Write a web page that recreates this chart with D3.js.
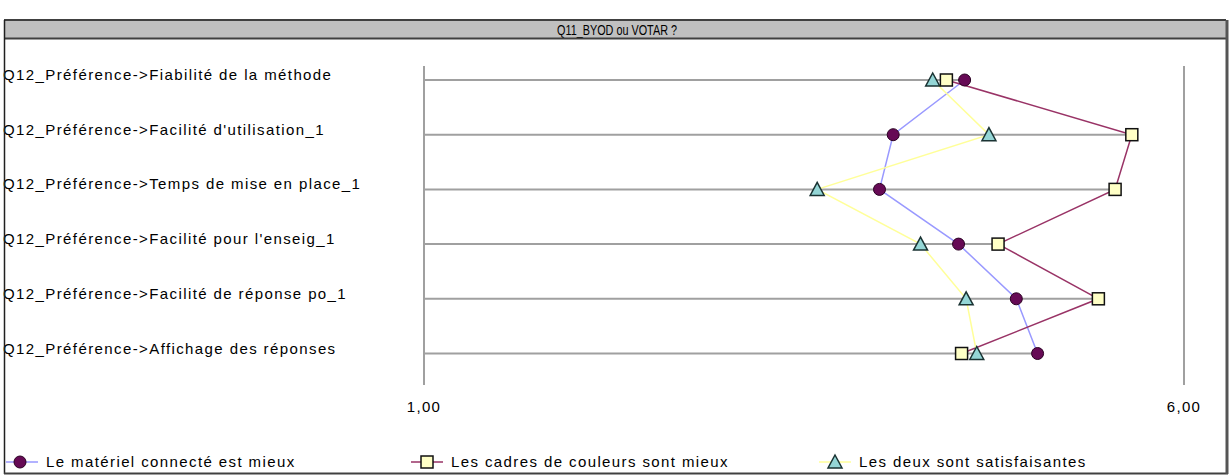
<!DOCTYPE html>
<html>
<head>
<meta charset="utf-8">
<script src="https://cdn.jsdelivr.net/npm/d3@7"></script>
<style>
  body { margin: 0; background: #fff; }
  svg { font-family: "Liberation Sans", Arial, sans-serif; }
</style>
</head>
<body>
<div id="chart"></div>
<script>
const W = 1231, H = 476

const title = "Q11_BYOD ou VOTAR ?"
const categories = [
  "Q12_Préférence->Fiabilité de la méthode",
  "Q12_Préférence->Facilité d'utilisation_1",
  "Q12_Préférence->Temps de mise en place_1",
  "Q12_Préférence->Facilité pour l'enseig_1",
  "Q12_Préférence->Facilité de réponse po_1",
  "Q12_Préférence->Affichage des réponses"
]
const seriesNames = [
  "Le matériel connecté est mieux",
  "Les cadres de couleurs sont mieux",
  "Les deux sont satisfaisantes"
]
const materiel = [4.56, 4.09, 4.00, 4.52, 4.90, 5.04]
const cadres   = [4.44, 5.66, 5.55, 4.78, 5.44, 4.54]
const deux     = [4.35, 4.72, 3.59, 4.27, 4.57, 4.64]
const tickValues = [1, 6]

const series = [
  { name: seriesNames[0], values: materiel, line: "#9999ff", fill: "#660a55", shape: "circle" },
  { name: seriesNames[1], values: cadres,   line: "#993366", fill: "#ffffc6", shape: "square" },
  { name: seriesNames[2], values: deux,     line: "#ffff99", fill: "#94d6d6", shape: "triangle" }
]

const svg = d3.select("#chart").append("svg")
  .attr("width", W).attr("height", H)

const x = d3.scaleLinear().domain([1, 6]).range([423.5, 1183.5])
const y = d3.scalePoint().domain(categories).range([80, 353.5])

// title bar
svg.append("rect")
  .attr("x", 4).attr("y", 20).attr("width", 1222).attr("height", 18)
  .attr("fill", "#c0c0c0")
svg.append("text")
  .attr("x", 557).attr("y", 34.5)
  .attr("font-size", 15)
  .attr("textLength", 120)
  .attr("lengthAdjust", "spacingAndGlyphs")
  .text(title)

// axis with full-height ticks
const axisG = svg.append("g").attr("transform", "translate(0,385)")
axisG.call(d3.axisBottom(x)
  .tickValues(tickValues)
  .tickSize(-319)
  .tickPadding(16)
  .tickFormat(d => d3.format(".2f")(d).replace(".", ",")))
axisG.select(".domain").remove()
axisG.selectAll(".tick line").attr("stroke", "#a0a0a0").attr("stroke-width", 2)
axisG.selectAll(".tick text")
  .attr("fill", "#000").attr("font-size", 15)
  .attr("letter-spacing", 1.3)
  .attr("font-family", "Liberation Sans, Arial, sans-serif")

// row lines, from 1 to the largest value of the row
svg.append("g").selectAll("line")
  .data(categories)
  .join("line")
  .attr("x1", x(1))
  .attr("x2", (d, i) => x(d3.max(series, s => s.values[i])))
  .attr("y1", d => y(d)).attr("y2", d => y(d))
  .attr("stroke", "#a0a0a0").attr("stroke-width", 2)

// category labels
svg.append("g").selectAll("text")
  .data(categories)
  .join("text")
  .attr("x", 3)
  .attr("y", d => y(d))
  .attr("font-size", 15)
  .attr("letter-spacing", 1.4)
  .text(d => d)

const lineGen = d3.line()
  .x(d => x(d))
  .y((d, i) => y(categories[i]))

svg.append("g").selectAll("path")
  .data(series)
  .join("path")
  .attr("d", s => lineGen(s.values))
  .attr("fill", "none")
  .attr("stroke", s => s.line)
  .attr("stroke-width", 1.5)

function drawMarker(g, shape, fill) {
  if (shape === "circle") {
    g.append("circle").attr("r", 6).attr("fill", fill).attr("stroke", "#2a0022").attr("stroke-width", 1)
  } else if (shape === "square") {
    g.append("rect").attr("x", -6).attr("y", -6).attr("width", 12).attr("height", 12)
      .attr("fill", fill).attr("stroke", "#111").attr("stroke-width", 1.5)
  } else {
    g.append("path").attr("d", "M0,-7L7,6L-7,6Z")
      .attr("fill", fill).attr("stroke", "#1a3333").attr("stroke-width", 1.5)
  }
}

series.forEach(s => {
  s.values.forEach((v, i) => {
    const g = svg.append("g").attr("transform", `translate(${x(v)},${y(categories[i])})`)
    drawMarker(g, s.shape, s.fill)
  })
})

// legend
const legendX = [6, 411, 819]
series.forEach((s, k) => {
  const lg = svg.append("g").attr("transform", `translate(${legendX[k]},462)`)
  lg.append("line").attr("x1", 0).attr("x2", 32).attr("y1", 0).attr("y2", 0)
    .attr("stroke", s.line).attr("stroke-width", 1.5)
  const m = lg.append("g").attr("transform", `translate(${k === 0 ? 14 : 16},0)`)
  drawMarker(m, s.shape, s.fill)
  lg.append("text").attr("x", 40).attr("y", 5).attr("font-size", 15)
    .attr("letter-spacing", 1.4).text(s.name)
})

// borders
svg.append("line").attr("x1", 4).attr("x2", 1226).attr("y1", 20).attr("y2", 20)
  .attr("stroke", "#404040").attr("stroke-width", 2)
svg.append("line").attr("x1", 4).attr("x2", 1226).attr("y1", 38.5).attr("y2", 38.5)
  .attr("stroke", "#404040").attr("stroke-width", 2)
svg.append("line").attr("x1", 4.5).attr("x2", 4.5).attr("y1", 20).attr("y2", 474)
  .attr("stroke", "#202020").attr("stroke-width", 1.5)
svg.append("line").attr("x1", 4).attr("x2", 1228).attr("y1", 473.5).attr("y2", 473.5)
  .attr("stroke", "#404040").attr("stroke-width", 2)
svg.append("line").attr("x1", 1227).attr("x2", 1227).attr("y1", 20).attr("y2", 474)
  .attr("stroke", "#555").attr("stroke-width", 3)
</script>
</body>
</html>
